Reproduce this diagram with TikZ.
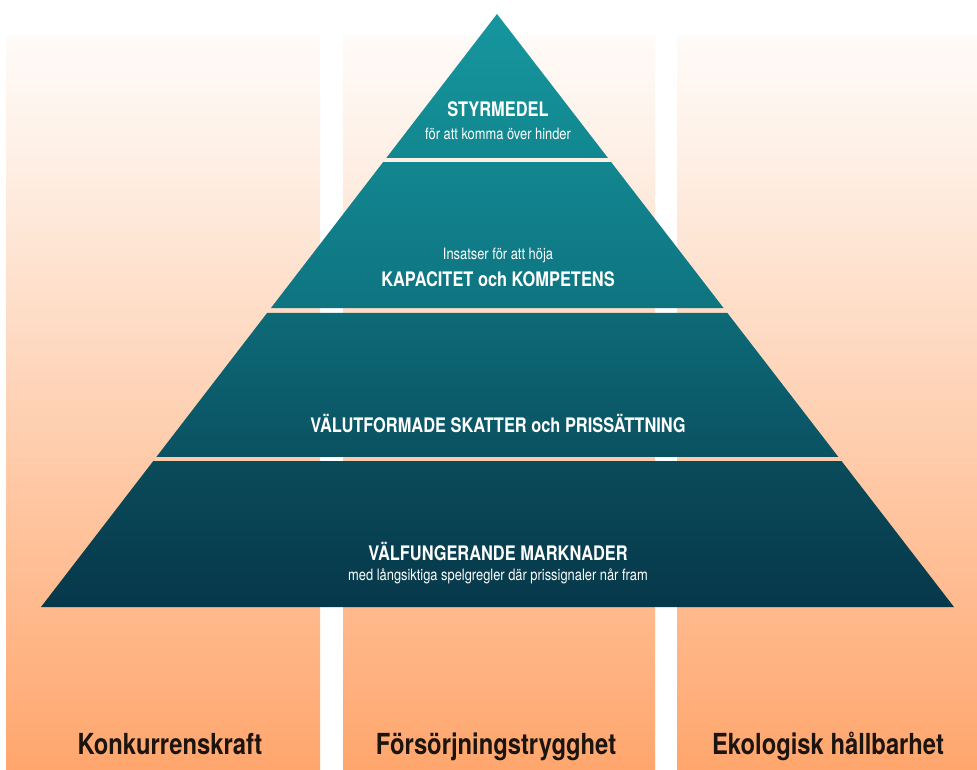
\documentclass[tikz,border=0pt]{standalone}
\usepackage{fontspec}
\setmainfont{TeX Gyre Heros}[FakeStretch=0.82]
\usetikzlibrary{calc}
\definecolor{pillartop}{HTML}{FFFBF8}
\definecolor{pillarmid}{HTML}{FEF0E6}
\definecolor{pillarbot}{HTML}{FFA66D}
\definecolor{tealA}{HTML}{16969F}
\definecolor{tealB}{HTML}{12878F}
\definecolor{tealC}{HTML}{128690}
\definecolor{tealD}{HTML}{0E7480}
\definecolor{tealE}{HTML}{0D6A77}
\definecolor{tealF}{HTML}{0A5262}
\definecolor{tealG}{HTML}{0A4B5A}
\definecolor{tealH}{HTML}{06384A}
\definecolor{goalink}{HTML}{1C140F}
\pgfdeclareverticalshading{pillarfade}{100bp}{color(0bp)=(pillarbot); color(25bp)=(pillarbot); color(67bp)=(pillarmid); color(75bp)=(pillartop); color(100bp)=(pillartop)}
\tikzset{
  pillar/.style={shading=pillarfade},
  headline/.style={text=white, anchor=base, inner sep=0pt, font=\bfseries\fontsize{20}{24}\selectfont},
  subline/.style={text=white, anchor=base, inner sep=0pt, font=\fontsize{15.7}{19}\selectfont},
  goal/.style={text=goalink, anchor=base, inner sep=0pt, font=\bfseries\fontsize{29}{34}\selectfont}
}
\begin{document}
\begin{tikzpicture}[x=1pt,y=-1pt]
  \useasboundingbox (0,0) rectangle (977,769);
  \fill[white] (0,0) rectangle (977,769);
  \shade[pillar] (6,35) rectangle (320,769);
  \shade[pillar] (343,35) rectangle (655,769);
  \shade[pillar] (677,35) rectangle (977,769);
  \coordinate (apex) at (497,14);
  \coordinate (bl) at (41,607);
  \coordinate (br) at (954,607);
  \shade[top color=tealA, bottom color=tealB] (apex) -- ($(apex)!0.2428!(br)$) -- ($(apex)!0.2428!(bl)$) -- cycle;
  \shade[top color=tealC, bottom color=tealD] ($(apex)!0.2496!(bl)$) -- ($(apex)!0.2496!(br)$) --
    ($(apex)!0.4958!(br)$) -- ($(apex)!0.4958!(bl)$) -- cycle;
  \shade[top color=tealE, bottom color=tealF] ($(apex)!0.5042!(bl)$) -- ($(apex)!0.5042!(br)$) --
    ($(apex)!0.7470!(br)$) -- ($(apex)!0.7470!(bl)$) -- cycle;
  \shade[top color=tealG, bottom color=tealH] ($(apex)!0.7538!(bl)$) -- ($(apex)!0.7538!(br)$) --
    (br) -- (bl) -- cycle;
  \node[headline] (styrmedel) at (498,116) {STYRMEDEL};
  \node[subline] (styrsub) at (498,139) {för att komma över hinder};
  \node[subline] (kapsub) at (498,259) {Insatser för att höja};
  \node[headline] (kapacitet) at (498,286) {KAPACITET och KOMPETENS};
  \node[headline] (skatter) at (498,432) {VÄLUTFORMADE SKATTER och PRISSÄTTNING};
  \node[headline] (marknader) at (498,560) {VÄLFUNGERANDE MARKNADER};
  \node[subline] (marksub) at (498,580) {med långsiktiga spelgregler där prissignaler når fram};
  \node[goal] (konkurrens) at (170,754) {Konkurrenskraft};
  \node[goal] (forsorjning) at (496,754) {Försörjningstrygghet};
  \node[goal] (ekologi) at (828,754) {Ekologisk hållbarhet};
\end{tikzpicture}
\end{document}
